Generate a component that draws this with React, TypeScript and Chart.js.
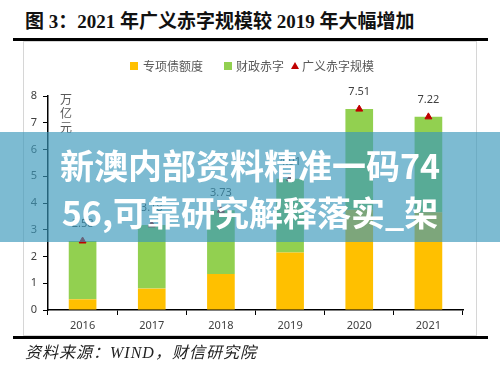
import React, { useEffect, useRef } from "react";
import { Chart, registerables } from "chart.js";

Chart.register(...registerables);

const years = ["2016", "2017", "2018", "2019", "2020", "2021"];
const specialBonds = [0.4, 0.8, 1.35, 2.15, 3.75, 3.65];
const fiscalDeficit = [2.18, 2.38, 2.38, 2.76, 3.76, 3.57];
const broadDeficit = [2.58, 3.18, 3.73, 4.91, 7.51, 7.22];
const yTicks = [0, 1, 2, 3, 4, 5, 6, 7, 8];

const labelPlugin = {
  id: "pointLabels",
  afterDatasetsDraw(chart: any) {
    const ctx = chart.ctx;
    const meta = chart.getDatasetMeta(2);
    ctx.save();
    ctx.font = "11px 'Noto Sans', sans-serif";
    ctx.fillStyle = "#404040";
    ctx.textAlign = "center";
    ctx.textBaseline = "middle";
    meta.data.forEach((pt: any, i: number) => {
      ctx.fillText(broadDeficit[i].toFixed(2), pt.x, pt.y - 17);
    });
    ctx.restore();
  },
};

export default function App() {
  const ref = useRef<HTMLCanvasElement | null>(null);

  useEffect(() => {
    document.body.style.margin = "0";
    const canvas = ref.current;
    if (!canvas) return;
    const chart = new Chart(canvas, {
      type: "bar",
      data: {
        labels: years,
        datasets: [
          {
            label: "专项债额度",
            data: specialBonds,
            backgroundColor: "#FFC000",
            stack: "s",
            order: 1,
            barPercentage: 0.4,
            categoryPercentage: 1,
          } as any,
          {
            label: "财政赤字",
            data: fiscalDeficit,
            backgroundColor: "#92D050",
            stack: "s",
            order: 1,
            barPercentage: 0.4,
            categoryPercentage: 1,
          } as any,
          {
            type: "line",
            label: "广义赤字规模",
            data: broadDeficit,
            showLine: false,
            pointStyle: "triangle",
            pointRadius: 4,
            backgroundColor: "#C00000",
            borderColor: "#C00000",
            borderWidth: 1,
            stack: "line",
            order: 0,
          } as any,
        ],
      },
      options: {
        responsive: false,
        animation: false,
        layout: { padding: { left: 0, right: 37, top: 96, bottom: 36 } },
        plugins: {
          legend: { display: false },
          tooltip: { enabled: false },
        },
        scales: {
          x: {
            stacked: true,
            grid: {
              display: true,
              drawOnChartArea: false,
              drawTicks: true,
              tickLength: 5,
              color: "#000",
              offset: true,
            },
            border: { display: true, color: "#000", width: 1.5 },
            ticks: {
              color: "#404040",
              font: { family: "'Noto Sans', sans-serif", size: 11 },
              padding: 4,
            },
            afterFit: (s: any) => {
              s.height = 30;
            },
          },
          y: {
            stacked: true,
            min: 0,
            max: 8,
            afterBuildTicks: (s: any) => {
              s.ticks = yTicks.map((v) => ({ value: v }));
            },
            grid: {
              display: true,
              drawOnChartArea: false,
              drawTicks: true,
              tickLength: 5,
              color: "#000",
            },
            border: { display: true, color: "#000", width: 1.5 },
            ticks: {
              color: "#404040",
              font: { family: "'Noto Sans', sans-serif", size: 11 },
              padding: 6,
            },
            afterFit: (s: any) => {
              s.width = 48;
            },
          },
        },
      },
      plugins: [labelPlugin],
    });
    return () => chart.destroy();
  }, []);

  const legendText: React.CSSProperties = {
    position: "absolute",
    top: 58,
    fontFamily: "'Noto Sans CJK SC', sans-serif",
    fontSize: 12,
    color: "#595959",
    lineHeight: "16px",
    whiteSpace: "nowrap",
  };

  return (
    <div style={{ position: "relative", width: 500, height: 376, background: "#fff", overflow: "hidden" }}>
      {/* title */}
      <div
        style={{
          position: "absolute",
          left: 25,
          top: 9,
          fontFamily: "'Liberation Serif', 'Noto Sans CJK SC', serif",
          fontWeight: "bold",
          fontSize: 19,
          lineHeight: "26px",
          color: "#111",
          whiteSpace: "nowrap",
        }}
      >
        图 3：2021 年广义赤字规模较 2019 年大幅增加
      </div>
      {/* gray frame */}
      <div
        style={{
          position: "absolute",
          left: 23,
          top: 41,
          width: 454,
          height: 295,
          border: "1px solid #d6d6d6",
          boxSizing: "border-box",
        }}
      />
      <canvas ref={ref} width={500} height={376} style={{ position: "absolute", left: 0, top: 0 }} />
      {/* thick rules */}
      <div style={{ position: "absolute", left: 13, top: 38, width: 475, height: 3, background: "#000" }} />
      <div style={{ position: "absolute", left: 13, top: 336, width: 475, height: 3, background: "#000" }} />
      {/* legend */}
      <div style={{ position: "absolute", left: 130, top: 62, width: 8, height: 8, background: "#FFC000" }} />
      <div style={{ ...legendText, left: 143 }}>专项债额度</div>
      <div style={{ position: "absolute", left: 224, top: 62, width: 8, height: 8, background: "#92D050" }} />
      <div style={{ ...legendText, left: 236 }}>财政赤字</div>
      <div
        style={{
          position: "absolute",
          left: 291,
          top: 62,
          width: 0,
          height: 0,
          borderLeft: "4px solid transparent",
          borderRight: "4px solid transparent",
          borderBottom: "7px solid #C00000",
        }}
      />
      <div style={{ ...legendText, left: 302 }}>广义赤字规模</div>
      {/* y unit */}
      <div
        style={{
          position: "absolute",
          left: 60,
          top: 92,
          width: 14,
          fontFamily: "'Noto Sans CJK SC', sans-serif",
          fontSize: 12,
          lineHeight: "14px",
          color: "#595959",
        }}
      >
        万<br />亿<br />元
      </div>
      {/* source */}
      <div
        style={{
          position: "absolute",
          left: 25,
          top: 343,
          fontFamily: "'Liberation Serif', 'Noto Sans CJK SC', serif",
          fontStyle: "italic",
          fontSize: 16,
          letterSpacing: 1,
          lineHeight: "20px",
          color: "#222",
          whiteSpace: "nowrap",
        }}
      >
        资料来源：WIND，财信研究院
      </div>
      {/* overlay banner */}
      <div
        style={{
          position: "absolute",
          left: 0,
          top: 132,
          width: 500,
          height: 110,
          background: "rgba(58,152,187,0.66)",
          boxSizing: "border-box",
          paddingTop: 9,
          textAlign: "center",
          fontFamily: "'Noto Sans CJK SC', sans-serif",
          fontWeight: "bold",
          fontSize: 34,
          lineHeight: "47px",
          color: "#fff",
          whiteSpace: "nowrap",
        }}
      >
        <div>新澳内部资料精准一码74</div>
        <div>56,可靠研究解释落实_架</div>
      </div>
    </div>
  );
}
